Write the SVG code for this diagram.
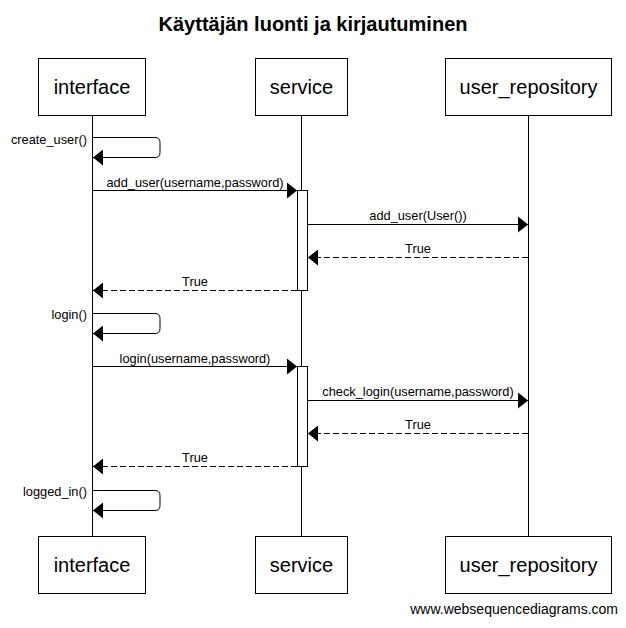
<svg xmlns="http://www.w3.org/2000/svg" width="626" height="628" viewBox="0 0 626 628">
<style>
text{font-family:"Liberation Sans",Arial,sans-serif;fill:#000}
.title{font-size:20px;font-weight:bold;text-anchor:middle}
.box rect{fill:#fff;stroke:#000;stroke-width:1}
.box text{font-size:20px;text-anchor:middle}
.life{stroke:#000;stroke-width:1;fill:none}
.msg{stroke:#000;stroke-width:1;fill:none}
.ret{stroke:#000;stroke-width:1;fill:none;stroke-dasharray:6,3}
.lbl{font-size:12.8px;text-anchor:middle}
.slbl{font-size:12.8px;text-anchor:end}
.act{fill:#fff;stroke:#000;stroke-width:1}
.wm{font-size:14px;text-anchor:end}
</style>
<defs>
<marker id="ah" markerUnits="userSpaceOnUse" markerWidth="10" markerHeight="16" refX="10" refY="8" orient="auto">
<path d="M0,0 L10,8 L0,16 Z" fill="#000"/>
</marker>
</defs>
<text class="title" x="313" y="30.5">Käyttäjän luonti ja kirjautuminen</text>
<g id="lifelines">
<line class="life" x1="92.5" y1="115.5" x2="92.5" y2="536.5"/>
<line class="life" x1="301.5" y1="115.5" x2="301.5" y2="536.5"/>
<line class="life" x1="528.5" y1="115.5" x2="528.5" y2="536.5"/>
</g>
<g id="interface">
<g class="box"><rect x="38.5" y="58.5" width="107" height="57"/><text x="92" y="94">interface</text></g>
<g class="box"><rect x="38.5" y="536.5" width="107" height="57"/><text x="92" y="572">interface</text></g>
</g>
<g id="service">
<g class="box"><rect x="255.5" y="58.5" width="92" height="57"/><text x="301.5" y="94">service</text></g>
<g class="box"><rect x="255.5" y="536.5" width="92" height="57"/><text x="301.5" y="572">service</text></g>
</g>
<g id="user_repository">
<g class="box"><rect x="445.5" y="58.5" width="166" height="57"/><text x="528.5" y="94">user_repository</text></g>
<g class="box"><rect x="445.5" y="536.5" width="166" height="57"/><text x="528.5" y="572">user_repository</text></g>
</g>
<g id="activations">
<rect class="act" x="297.5" y="190.5" width="10" height="100"/>
<rect class="act" x="297.5" y="366.5" width="10" height="100"/>
</g>
<g id="connectors">
<path class="msg" d="M93,137.5 H155 Q160,137.5 160,142.5 V152.5 Q160,157.5 155,157.5 H93" marker-end="url(#ah)"/>
<text class="slbl" x="87" y="143.5">create_user()</text>
<line class="msg" x1="93" y1="190.5" x2="297" y2="190.5" marker-end="url(#ah)"/>
<text class="lbl" x="195" y="186.5">add_user(username,password)</text>
<line class="msg" x1="308" y1="224.5" x2="528" y2="224.5" marker-end="url(#ah)"/>
<text class="lbl" x="418" y="219.5">add_user(User())</text>
<line class="ret" x1="528" y1="257.5" x2="308" y2="257.5" marker-end="url(#ah)"/>
<text class="lbl" x="418" y="252.5">True</text>
<line class="ret" x1="297" y1="290.5" x2="93" y2="290.5" marker-end="url(#ah)"/>
<text class="lbl" x="195" y="285.5">True</text>
<path class="msg" d="M93,313.5 H155 Q160,313.5 160,318.5 V328.5 Q160,333.5 155,333.5 H93" marker-end="url(#ah)"/>
<text class="slbl" x="87" y="319">login()</text>
<line class="msg" x1="93" y1="366.5" x2="297" y2="366.5" marker-end="url(#ah)"/>
<text class="lbl" x="195" y="362.5">login(username,password)</text>
<line class="msg" x1="308" y1="400.5" x2="528" y2="400.5" marker-end="url(#ah)"/>
<text class="lbl" x="418" y="395.5">check_login(username,password)</text>
<line class="ret" x1="528" y1="433.5" x2="308" y2="433.5" marker-end="url(#ah)"/>
<text class="lbl" x="418" y="428.5">True</text>
<line class="ret" x1="297" y1="466.5" x2="93" y2="466.5" marker-end="url(#ah)"/>
<text class="lbl" x="195" y="461.5">True</text>
<path class="msg" d="M93,490.5 H155 Q160,490.5 160,495.5 V505.5 Q160,510.5 155,510.5 H93" marker-end="url(#ah)"/>
<text class="slbl" x="87" y="496">logged_in()</text>
</g>
<text class="wm" x="618" y="614">www.websequencediagrams.com</text>
</svg>
